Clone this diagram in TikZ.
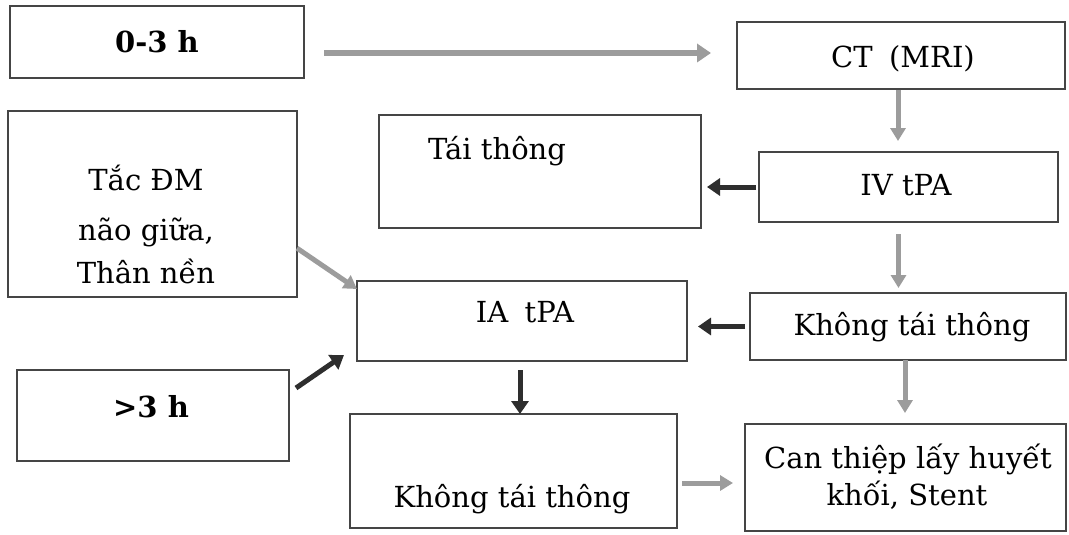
\documentclass[tikz,border=0pt]{standalone}
\usepackage{fontspec}
\setmainfont{DejaVu Serif}
\usetikzlibrary{arrows.meta}
\definecolor{boxline}{HTML}{454545}
\definecolor{lightarrow}{HTML}{9C9C9C}
\definecolor{darkarrow}{HTML}{2E2E2E}
\tikzset{
  box/.style={draw=boxline, line width=1.1pt, inner sep=0pt, outer sep=0pt, rectangle},
  txt/.style={inner sep=0pt, outer sep=0pt, anchor=base, font=\fontsize{29}{35}\selectfont, text=black},
  btxt/.style={txt, font=\fontsize{29}{35}\selectfont\bfseries},
  garrow/.style={draw=lightarrow, line width=5pt, -{Triangle[width=15pt,length=13pt]}},
  darrow/.style={draw=darkarrow, line width=5pt, -{Triangle[width=17pt,length=13pt]}}
}
\begin{document}
\begin{tikzpicture}[x=1pt,y=-1pt]
\useasboundingbox (0,0) rectangle (1069,535);
\fill[white] (0,0) rectangle (1069,535);
% boxes
\node[box, minimum width=294pt, minimum height=72pt]  (t03) at (157,42) {};
\node[box, minimum width=328pt, minimum height=67pt]  (ct)  at (901,55.5) {};
\node[box, minimum width=289pt, minimum height=186pt] (tac) at (152.5,204) {};
\node[box, minimum width=322pt, minimum height=113pt] (tai) at (540,171.5) {};
\node[box, minimum width=299pt, minimum height=70pt]  (iv)  at (908.5,187) {};
\node[box, minimum width=330pt, minimum height=80pt]  (ia)  at (522,321) {};
\node[box, minimum width=316pt, minimum height=67pt]  (kh1) at (908,326.5) {};
\node[box, minimum width=272pt, minimum height=91pt]  (gt3) at (153,415.5) {};
\node[box, minimum width=327pt, minimum height=114pt] (kh2) at (513.5,471) {};
\node[box, minimum width=321pt, minimum height=107pt] (can) at (905.5,477.5) {};
% texts
\node[btxt] (t03T) at (157,53) {0-3 h};
\node[txt] (ctT) at (903,67) {CT\hspace{0.25em} (MRI)};
\node[txt] (taiT) at (497,159) {Tái thông};
\node[txt] (ivT) at (906,195) {IV tPA};
\node[txt] (tacA) at (146,190) {Tắc ĐM};
\node[txt] (tacB) at (146,240) {não giữa,};
\node[txt] (tacC) at (146,283) {Thân nền};
\node[txt] (iaT) at (525,322) {IA\hspace{0.25em} tPA};
\node[txt] (kh1T) at (912,335) {Không tái thông};
\node[btxt] (gt3T) at (151,417) {>3 h};
\node[txt] (kh2T) at (512,507) {Không tái thông};
\node[txt] (canA) at (908,468) {Can thiệp lấy huyết};
\node[txt] (canB) at (907,505) {khối, Stent};
% helper coordinates
\coordinate (a1s) at ([yshift=-11pt]t03.east);
\coordinate (a1e) at (a1s -| ct.west);
\coordinate (a4s) at ([xshift=-10pt]iv.south);
\coordinate (a10s) at ([yshift=-12pt]kh2.east);
% connectors
\draw[garrow, line width=6pt, -{Triangle[width=18pt,length=14pt]}, shorten <=20pt, shorten >=26pt] (a1s) -- (a1e);
\draw[garrow, shorten <=1pt, shorten >=11pt] ([xshift=-3pt]ct.south) -- ([xshift=-3pt]ct.south |- iv.north);
\draw[darrow, shorten <=3pt, shorten >=6pt] (iv.west) -- (iv.west -| tai.east);
\draw[garrow, shorten <=12pt, shorten >=5pt] (a4s) -- (a4s |- kh1.north);
\draw[darrow, shorten <=5pt, shorten >=11pt] (kh1.west) -- (kh1.west -| ia.east);
\draw[garrow, shorten >=0pt] (tac.-17.7) -- ([yshift=-8pt]ia.north west);
\draw[darrow] ([shift={(7pt,-18pt)}]gt3.north east) -- ([shift={(-13pt,6pt)}]ia.south west);
\draw[darrow, shorten <=9pt] ([xshift=-2pt]ia.south) -- ([xshift=-2pt]ia.south |- kh2.north);
\draw[garrow, shorten <=0pt, shorten >=11pt] ([xshift=-3pt]kh1.south) -- ([xshift=-3pt]kh1.south |- can.north);
\draw[garrow, shorten <=5pt, shorten >=12pt] (a10s) -- (a10s -| can.west);
\end{tikzpicture}
\end{document}
